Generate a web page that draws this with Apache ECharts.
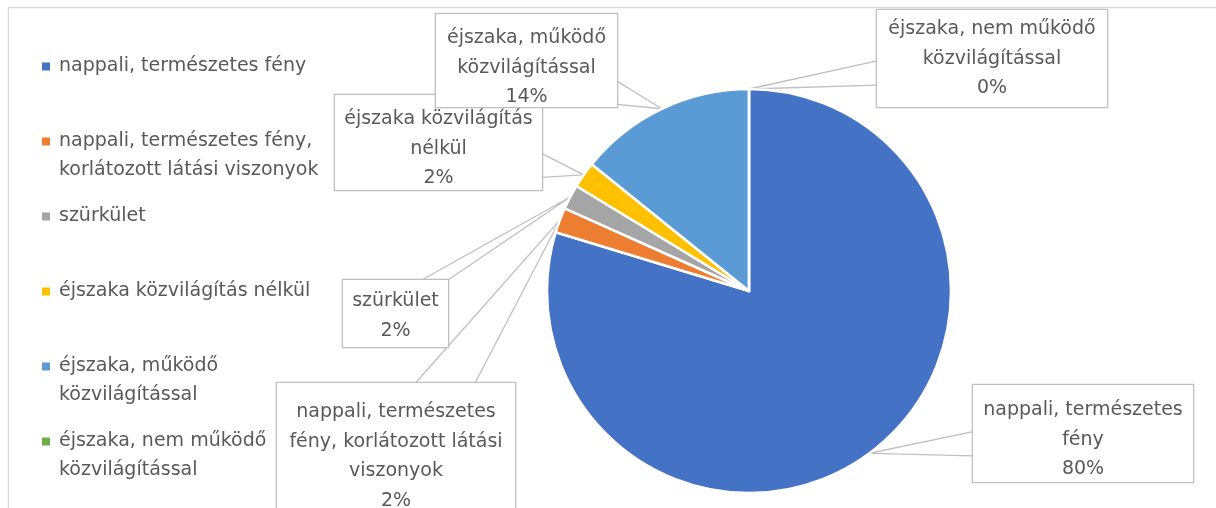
<!DOCTYPE html>
<html>
<head>
<meta charset="utf-8">
<script src="https://cdn.jsdelivr.net/npm/echarts@6/dist/echarts.min.js"></script>
<style>
  html, body { margin: 0; padding: 0; background: #fff; }
  #chart { width: 1216px; height: 508px; }
</style>
</head>
<body>
<div id="chart"></div>
<script>
var categories = [
  'nappali, természetes fény',
  'nappali, természetes fény, korlátozott látási viszonyok',
  'szürkület',
  'éjszaka közvilágítás nélkül',
  'éjszaka, működő közvilágítással',
  'éjszaka, nem működő közvilágítással'
];
var shares = [79.7, 2.0, 2.0, 2.1, 14.2, 0];
var colors = ['#4472C4', '#ED7D31', '#A5A5A5', '#FFC000', '#5B9BD5', '#70AD47'];

// line breaks as in the original legend and callouts
var legendText = [
  'nappali, természetes fény',
  'nappali, természetes fény,\nkorlátozott látási viszonyok',
  'szürkület',
  'éjszaka közvilágítás nélkül',
  'éjszaka, működő\nközvilágítással',
  'éjszaka, nem működő\nközvilágítással'
];
var calloutText = [
  'nappali, természetes\nfény',
  'nappali, természetes\nfény, korlátozott látási\nviszonyok',
  'szürkület',
  'éjszaka közvilágítás\nnélkül',
  'éjszaka, működő\nközvilágítással',
  'éjszaka, nem működő\nközvilágítással'
];

// callout boxes: left, top, width, height, centre of first text line (px)
var boxes = [
  { l: 973, t: 385, w: 220, h: 97, first: 408 },
  { l: 277, t: 383, w: 238, h: 140, first: 410 },
  { l: 343, t: 280, w: 105, h: 67, first: 299 },
  { l: 335, t: 95, w: 207, h: 95, first: 117 },
  { l: 436, t: 14, w: 181, h: 93, first: 36 },
  { l: 877, t: 10, w: 230, h: 97, first: 27 }
];

var FONT = 'DejaVu Sans';
var FS = 19;
var LH = 29.5;

function clamp(v, a, b) { return Math.max(a, Math.min(b, v)); }

// excel-like callout wedge: two lines from the box edge to the slice
function wedge(b, tip) {
  var cx = b.l + b.w / 2, cy = b.t + b.h / 2;
  var dx = tip[0] - cx, dy = tip[1] - cy;
  var sx = dx ? (b.w / 2) / Math.abs(dx) : Infinity;
  var sy = dy ? (b.h / 2) / Math.abs(dy) : Infinity;
  var half, c;
  if (sx < sy) {
    var ex = dx > 0 ? b.l + b.w : b.l;
    half = b.h * 0.125;
    c = clamp(cy + dy * sx, b.t + half, b.t + b.h - half);
    return [[ex, c - half], tip, [ex, c + half]];
  }
  var ey = dy > 0 ? b.t + b.h : b.t;
  half = b.w * 0.125;
  c = clamp(cx + dx * sy, b.l + half, b.l + b.w - half);
  return [[c - half, ey], tip, [c + half, ey]];
}

var chart = echarts.init(document.getElementById('chart'));

var pieData = categories.map(function (name, i) {
  var b = boxes[i];
  var padTop = b.first + 2.5 - LH / 2 - b.t;
  return {
    name: name,
    value: shares[i],
    itemStyle: { color: colors[i] },
    label: { width: b.w, height: b.h - padTop, padding: [padTop, 0, 0, 0] }
  };
});

chart.setOption({
  animation: false,
  backgroundColor: '#fff',
  graphic: [{
    type: 'rect',
    silent: true,
    z: -10,
    shape: { x: 8.5, y: 7.5, width: 1400, height: 700 },
    style: { fill: 'none', stroke: '#d9d9d9', lineWidth: 1.3 }
  }],
  legend: {
    orient: 'vertical',
    left: 42,
    top: 23,
    padding: 0,
    itemWidth: 8,
    itemHeight: 8,
    itemGap: -12,
    icon: 'rect',
    selectedMode: false,
    itemStyle: { borderWidth: 0 },
    // every entry is 3 lines tall so the icon sits on the first text line
    formatter: function (n) {
      var t = legendText[categories.indexOf(n)];
      return ' \n' + t + (t.indexOf('\n') > -1 ? '' : '\n ');
    },
    textStyle: { color: '#595959', fontFamily: FONT, fontSize: FS, lineHeight: 29, padding: [0, 0, 0, 4] },
    data: categories
  },
  series: [{
    type: 'pie',
    center: [749, 291],
    radius: 202,
    startAngle: 90,
    clockwise: true,
    avoidLabelOverlap: false,
    percentPrecision: 0,
    silent: true,
    itemStyle: { borderColor: '#fff', borderWidth: 2.5 },
    label: {
      show: true,
      position: 'outside',
      color: '#595959',
      fontFamily: FONT,
      fontSize: FS,
      lineHeight: LH,
      align: 'center',
      backgroundColor: '#fff',
      borderColor: '#bfbfbf',
      borderWidth: 1.3,
      formatter: function (p) { return calloutText[p.dataIndex] + '\n' + p.percent + '%'; }
    },
    labelLine: { show: true, lineStyle: { color: '#bfbfbf', width: 1.3 } },
    labelLayout: function (p) {
      var b = boxes[p.dataIndex];
      var out = { x: b.l + b.w / 2, y: b.t, align: 'center', verticalAlign: 'top' };
      if (p.labelLinePoints) out.labelLinePoints = wedge(b, p.labelLinePoints[0]);
      return out;
    },
    data: pieData
  }]
});
</script>
</body>
</html>
